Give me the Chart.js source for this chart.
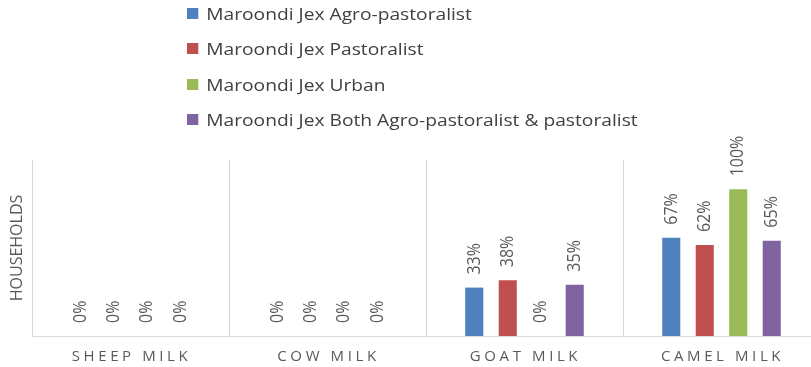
<!DOCTYPE html>
<html>
<head>
<meta charset="utf-8">
<script src="https://cdn.jsdelivr.net/npm/chart.js@4.4.1/dist/chart.umd.min.js"></script>
<style>
  html, body { margin: 0; padding: 0; background: #fff; overflow: hidden; }
  #wrap { position: relative; width: 811px; height: 367px; overflow: hidden; }
  #myChart { position: absolute; left: 0; top: 0; }
  #legend { position: absolute; left: 187px; top: 0; font-family: "Open Sans", sans-serif; font-size: 17px; color: #404040; transform: scaleX(1.13); transform-origin: 0 0; }
  .item { position: absolute; white-space: nowrap; display: flex; align-items: center; height: 20px; }
  .sw { width: 10px; height: 11px; margin-right: 7px; }
</style>
</head>
<body>
<div id="wrap">
  <canvas id="myChart" width="820" height="367"></canvas>
  <div id="legend"></div>
</div>
<script>
const categories = ['SHEEP MILK', 'COW MILK', 'GOAT MILK', 'CAMEL MILK'];
const seriesNames = [
  'Maroondi Jex Agro-pastoralist',
  'Maroondi Jex Pastoralist',
  'Maroondi Jex Urban',
  'Maroondi Jex Both Agro-pastoralist & pastoralist'
];
const agroPastoralist = [0, 0, 33, 67];
const pastoralist = [0, 0, 38, 62];
const urban = [0, 0, 0, 100];
const both = [0, 0, 35, 65];
const colors = ['#4F81BD', '#C0504D', '#9BBB59', '#8064A2'];

const allValues = [agroPastoralist, pastoralist, urban, both];

// legend (html)
const legend = document.getElementById('legend');
seriesNames.forEach((name, i) => {
  const row = document.createElement('div');
  row.className = 'item';
  row.style.top = (3 + i * 35.5) + 'px';
  row.innerHTML = `<span class="sw" style="background:${colors[i]}"></span>${name}`;
  legend.appendChild(row);
});

const labelFont = '16px "Open Sans", sans-serif';

const valueLabels = {
  id: 'valueLabels',
  afterDatasetsDraw(chart) {
    const ctx = chart.ctx;
    ctx.save();
    ctx.font = labelFont;
    ctx.fillStyle = '#595959';
    ctx.textAlign = 'left';
    ctx.textBaseline = 'middle';
    chart.data.datasets.forEach((ds, di) => {
      chart.getDatasetMeta(di).data.forEach((bar, i) => {
        ctx.save();
        ctx.translate(bar.x, bar.y - 13);
        ctx.rotate(-Math.PI / 2);
        ctx.scale(1, 1.15); // picture is a bit stretched sideways
        ctx.fillText(ds.data[i] + '%', 0, 0);
        ctx.restore();
      });
    });
    ctx.restore();
  }
};

const spacedTicks = {
  id: 'spacedTicks',
  afterDraw(chart) {
    const ctx = chart.ctx;
    const x = chart.scales.x;
    ctx.save();
    ctx.font = '15px "Open Sans", sans-serif';
    ctx.letterSpacing = '3.6px';
    ctx.fillStyle = '#595959';
    ctx.textAlign = 'center';
    ctx.textBaseline = 'middle';
    categories.forEach((c, i) => {
      ctx.fillText(c, x.getPixelForValue(i) + 1, 357);
    });
    ctx.restore();
  }
};

const ctx = document.getElementById('myChart');

new Chart(ctx, {
  type: 'bar',
  data: {
    labels: categories,
    datasets: seriesNames.map((name, i) => ({
      label: name,
      data: allValues[i],
      backgroundColor: colors[i],
      borderWidth: 0,
      categoryPercentage: 0.68,
      barPercentage: 0.54
    }))
  },
  options: {
    responsive: false,
    animation: false,
    layout: { padding: { top: 160, right: 0, left: 0, bottom: 0 } },
    plugins: {
      legend: { display: false },
      tooltip: { enabled: false }
    },
    scales: {
      x: {
        grid: { display: true, offset: true, color: '#D9D9D9', drawTicks: false },
        border: { display: true, color: '#D9D9D9' },
        ticks: { display: false },
        afterFit(scale) { scale.height = 31; }
      },
      y: {
        min: 0,
        max: 120,
        grid: { display: false },
        border: { display: false },
        ticks: { display: false },
        title: {
          display: true,
          text: 'HOUSEHOLDS',
          color: '#595959',
          font: { family: '"Open Sans", sans-serif', size: 16 },
          padding: { top: 8, bottom: 0 }
        },
        afterFit(scale) { scale.width = 32; }
      }
    }
  },
  plugins: [valueLabels, spacedTicks]
});
</script>
</body>
</html>
